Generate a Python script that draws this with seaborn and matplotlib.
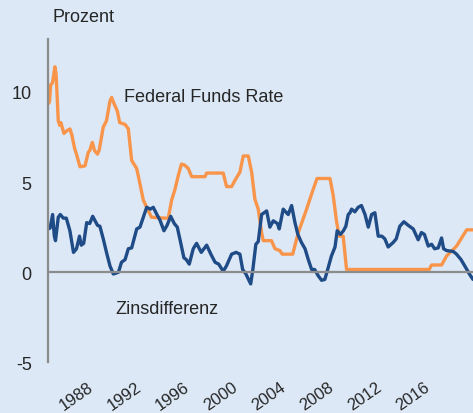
import seaborn as sns
import matplotlib.pyplot as plt
import pandas as pd

# Federal Funds Rate (Prozent)
ff_years = [1984.0, 1984.1, 1984.2, 1984.35, 1984.55, 1984.65, 1984.83, 1984.95, 1985.05, 1985.3,
            1985.55, 1985.8, 1985.95, 1986.2, 1986.35, 1986.64, 1987.06, 1987.33, 1987.45, 1987.67,
            1987.85, 1988.1, 1988.25, 1988.58, 1988.85, 1989.14, 1989.28, 1989.45, 1989.75, 1989.95,
            1990.4, 1990.67, 1990.95, 1991.37, 1991.64, 1991.92, 1992.2, 1992.6, 1993.7, 1994.0,
            1994.28, 1994.56, 1994.83, 1995.1, 1995.35, 1995.67, 1995.95, 1997.06, 1997.2, 1998.58,
            1998.86, 1999.28, 1999.56, 1999.97, 2000.25, 2000.67, 2000.95, 2001.22, 2001.5, 2001.78,
            2001.92, 2002.6, 2002.9, 2003.3, 2003.5, 2004.37, 2004.84, 2005.53, 2006.08, 2006.4,
            2007.48, 2007.75, 2008.03, 2008.25, 2008.58, 2008.86, 2015.75, 2015.95, 2016.78, 2017.2,
            2018.03, 2018.87, 2019.4]
ff_values = [9.35, 9.45, 10.4, 10.5, 11.4, 11.0, 8.4, 8.15, 8.3, 7.7,
             7.85, 7.95, 7.65, 6.85, 6.55, 5.85, 5.9, 6.65, 6.75, 7.2,
             6.75, 6.55, 6.8, 8.05, 8.4, 9.5, 9.7, 9.4, 8.95, 8.3,
             8.2, 7.95, 6.2, 5.75, 4.9, 4.0, 3.6, 3.05, 3.0, 3.0,
             4.0, 4.6, 5.35, 6.0, 5.95, 5.75, 5.3, 5.3, 5.5, 5.5,
             4.75, 4.75, 5.1, 5.55, 6.45, 6.45, 5.55, 4.05, 3.5, 2.2,
             1.75, 1.75, 1.3, 1.2, 1.0, 1.0, 2.2, 3.5, 4.6, 5.2,
             5.2, 4.25, 2.8, 2.0, 2.0, 0.15, 0.15, 0.4, 0.4, 0.9,
             1.45, 2.35, 2.35]

# Zinsdifferenz
zd_years = [1984.0, 1984.15, 1984.36, 1984.5, 1984.6, 1984.83, 1985.0, 1985.25, 1985.5, 1985.8,
            1986.1, 1986.35, 1986.6, 1986.75, 1986.95, 1987.2, 1987.45, 1987.7, 1987.9, 1988.1,
            1988.3, 1988.58, 1988.85, 1989.14, 1989.42, 1989.65, 1989.85, 1990.1, 1990.4, 1990.67,
            1990.95, 1991.37, 1991.64, 1991.92, 1992.2, 1992.5, 1992.75, 1993.05, 1993.3, 1993.64,
            1993.9, 1994.2, 1994.5, 1994.75, 1995.03, 1995.3, 1995.5, 1995.75, 1996.08, 1996.36,
            1996.75, 1997.2, 1997.55, 1997.9, 1998.2, 1998.58, 1998.85, 1999.28, 1999.65, 1999.97,
            2000.2, 2000.47, 2000.87, 2001.05, 2001.3, 2001.5, 2001.78, 2002.2, 2002.47, 2002.75,
            2003.1, 2003.25, 2003.58, 2003.85, 2004.0, 2004.28, 2004.56, 2004.8, 2005.1, 2005.4,
            2005.67, 2005.95, 2006.2, 2006.5, 2006.78, 2007.05, 2007.33, 2007.6, 2007.9, 2008.08,
            2008.35, 2008.6, 2008.8, 2009.0, 2009.15, 2009.28, 2009.55, 2009.83, 2010.1, 2010.4,
            2010.67, 2010.95, 2011.22, 2011.5, 2011.8, 2012.05, 2012.33, 2012.75, 2013.0, 2013.3,
            2013.64, 2014.0, 2014.42, 2014.83, 2015.1, 2015.35, 2015.67, 2015.95, 2016.2, 2016.5,
            2016.78, 2016.95, 2017.2, 2017.75, 2018.03, 2018.4, 2018.8, 2019.1, 2019.4]
zd_values = [2.4, 2.45, 3.2, 2.0, 1.75, 3.05, 3.2, 3.0, 3.0, 2.3,
             1.1, 1.3, 2.0, 1.5, 1.6, 2.75, 2.7, 3.1, 2.85, 2.6,
             2.55, 1.85, 1.1, 0.35, -0.1, -0.05, 0.0, 0.55, 0.7, 1.3,
             1.35, 2.4, 2.5, 3.05, 3.6, 3.5, 3.6, 3.2, 2.9, 2.3,
             2.6, 3.1, 2.7, 2.5, 1.65, 0.8, 0.7, 0.45, 1.3, 1.6,
             1.1, 1.5, 1.0, 0.55, 0.45, 0.05, 0.35, 1.0, 1.1, 1.0,
             0.15, -0.1, -0.65, 0.15, 1.55, 1.7, 3.2, 3.4, 2.5, 2.85,
             2.7, 2.4, 3.5, 3.3, 3.2, 3.7, 2.75, 2.1, 1.65, 1.3,
             0.7, 0.15, 0.15, -0.2, -0.45, -0.4, 0.25, 0.9, 1.4, 2.3,
             2.1, 2.3, 2.55, 3.2, 3.3, 3.5, 3.35, 3.6, 3.7, 3.2,
             2.5, 3.2, 3.3, 2.0, 2.0, 1.85, 1.4, 1.65, 1.85, 2.55,
             2.8, 2.6, 2.4, 1.8, 2.2, 2.1, 1.45, 1.55, 1.3, 1.35,
             1.9, 1.3, 1.2, 1.15, 1.0, 0.7, 0.25, -0.1, -0.4]

y_ticks = [-5, 0, 5, 10]
x_ticks = list(range(1984, 2019, 2))
label_years = [1988, 1992, 1996, 2000, 2004, 2008, 2012, 2016]

bg = '#dce8f6'
grey = '#8c8c8c'
orange = '#f9954a'
blue = '#1f4b87'

sns.set_style('white')
plt.rcParams['font.family'] = ['Liberation Sans', 'DejaVu Sans']
plt.rcParams['axes.unicode_minus'] = False

df_ff = pd.DataFrame({'Jahr': ff_years, 'Prozent': ff_values})
df_zd = pd.DataFrame({'Jahr': zd_years, 'Prozent': zd_values})

fig = plt.figure(figsize=(4.73, 4.14), dpi=100, facecolor=bg)
ax = fig.add_axes([48.3 / 473, (414 - 363.3) / 414, 1 - 48.3 / 473, (363.3 - 40) / 414])
ax.set_facecolor(bg)

sns.lineplot(data=df_ff, x='Jahr', y='Prozent', color=orange, lw=2.4, ax=ax)
sns.lineplot(data=df_zd, x='Jahr', y='Prozent', color=blue, lw=2.4, ax=ax)

ax.set_xlim(1984, 2019.4)
ax.set_ylim(-5, 12.94)
ax.set_xlabel('')
ax.set_ylabel('')

for side in ['top', 'right']:
    ax.spines[side].set_visible(False)
ax.spines['left'].set_color(grey)
ax.spines['left'].set_linewidth(1.6)
ax.spines['bottom'].set_color(grey)
ax.spines['bottom'].set_linewidth(1.6)
ax.spines['bottom'].set_position(('data', 0))

ax.set_xticks(x_ticks)
ax.tick_params(axis='x', direction='out', length=4.5, width=1.5, color=grey, labelbottom=False)
ax.set_yticks(y_ticks)
ax.tick_params(axis='y', direction='out', length=5, width=1.5, color=grey, pad=7, labelsize=13)

sec = ax.secondary_xaxis('bottom')
sec.set_xticks(label_years, [str(y) for y in label_years], rotation=35, ha='right')
sec.tick_params(length=0, pad=12, labelsize=12)
sec.spines['bottom'].set_visible(False)

fig.text(52 / 473, 1 - 21.7 / 414, 'Prozent', fontsize=13, va='baseline', ha='left')
ax.text(1990.31, 9.52, 'Federal Funds Rate', fontsize=13, va='baseline', ha='left')
ax.text(1989.56, -2.24, 'Zinsdifferenz', fontsize=13, va='baseline', ha='left')

fig.savefig('out.png', dpi=100, facecolor=bg)
